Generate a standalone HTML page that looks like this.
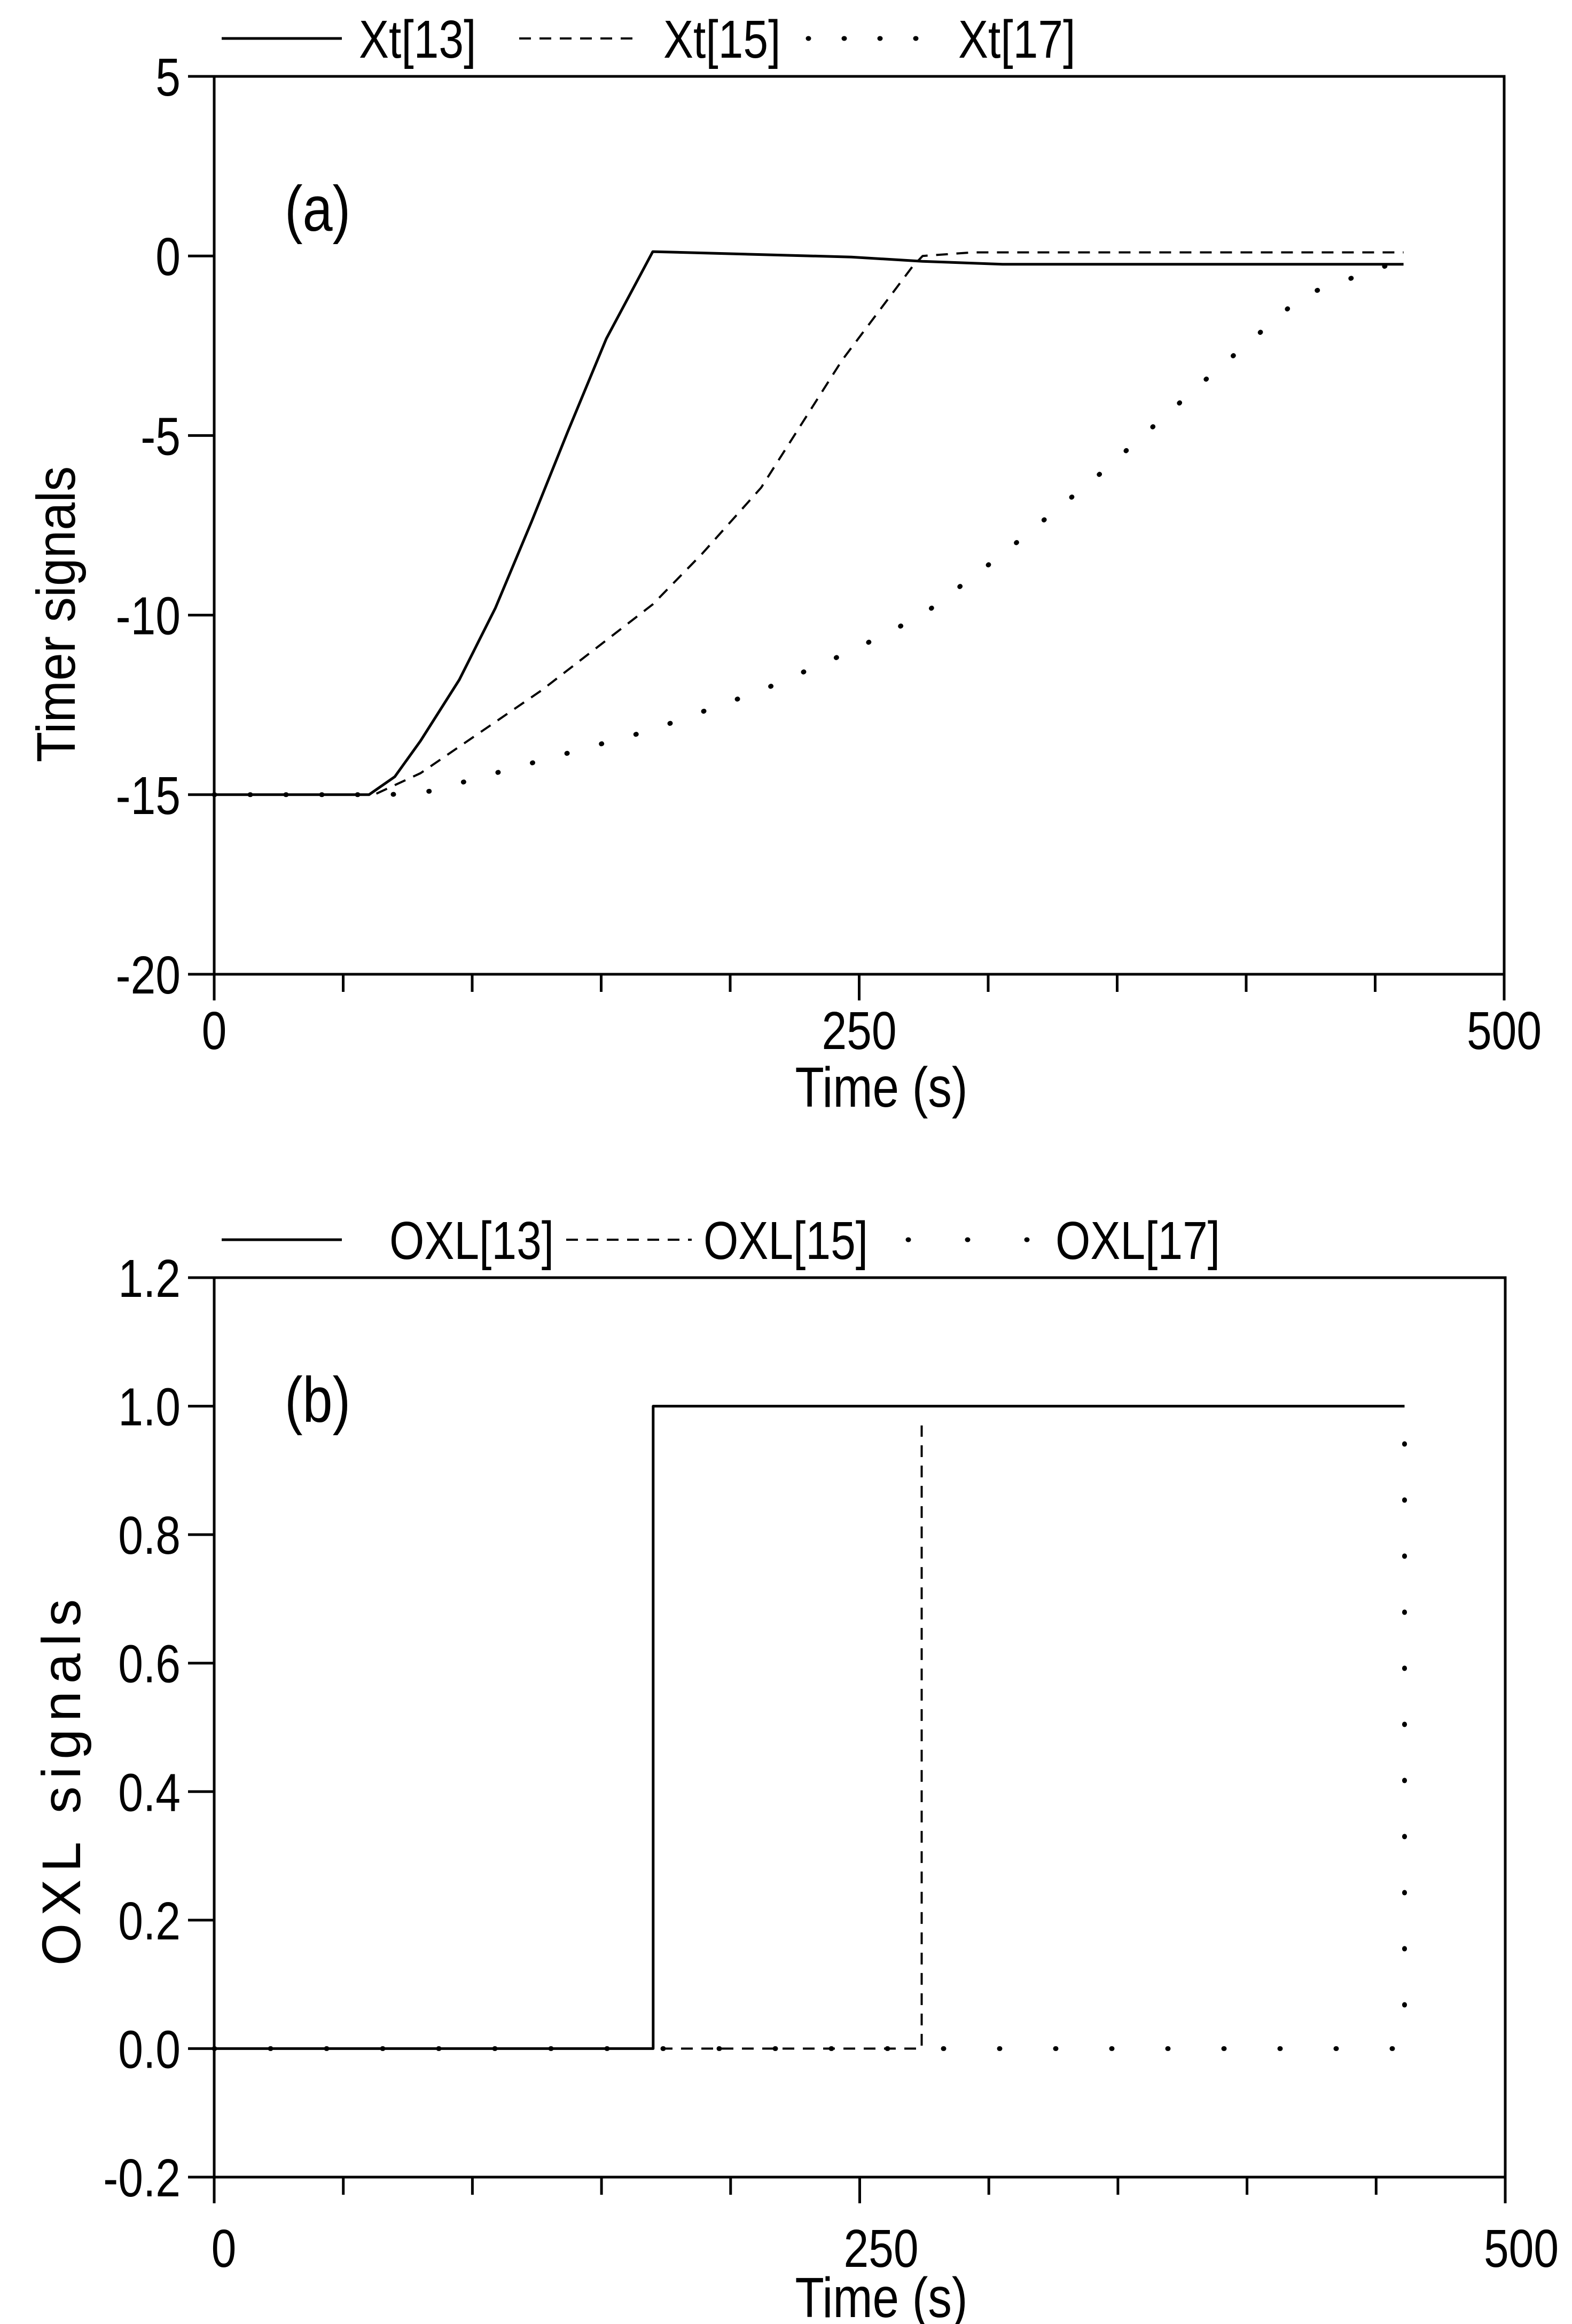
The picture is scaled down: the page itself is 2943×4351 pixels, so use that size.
<!DOCTYPE html>
<html><head><meta charset="utf-8">
<style>
html,body{margin:0;padding:0;background:#fff;}
svg{display:block;}
text{font-family:"Liberation Sans",sans-serif;fill:#000;}
</style></head>
<body>
<svg id="chart" width="2943" height="4351" viewBox="0 0 2943 4351" xmlns="http://www.w3.org/2000/svg">
<rect width="2943" height="4351" fill="#fff"/>
</svg>
<script>
// ---- Panel (a) data ----
const xt13T = [0, 60, 70, 80, 95, 109, 123, 137, 152, 170, 247, 274.5, 305.6, 461];
const xt13V = [-15, -15, -14.5, -13.5, -11.8, -9.8, -7.4, -4.9, -2.3, 0.12, -0.03, -0.15, -0.23, -0.23];
const xt15T = [0, 62, 80, 126.8, 170, 189, 212, 243.4, 270.6, 274.6, 294, 461];
const xt15V = [-15, -15, -14.4, -12.1, -9.7, -8.3, -6.45, -2.9, -0.3, 0, 0.1, 0.1];
const xt17T = [0, 68, 84, 119, 169.5, 212, 247, 274.5, 305.6, 344.5, 383.4, 422, 461];
const xt17V = [-15, -15, -14.9, -14.2, -13.2, -12.1, -11, -10, -8.3, -6, -3.5, -1.1, -0.1];
const aYTicks = [5, 0, -5, -10, -15, -20];
const aYLabels = ["5", "0", "-5", "-10", "-15", "-20"];
// ---- Panel (b) data ----
const oxl13T = [0, 170, 170, 461];
const oxl13V = [0, 0, 1, 1];
const oxl15T = [0, 274, 274];
const oxl15V = [0, 0, 0.97];
const oxl17T = [0, 461, 461];
const oxl17V = [0, 0, 0.96];
const bYTicks = [1.2, 1.0, 0.8, 0.6, 0.4, 0.2, 0.0, -0.2];
const bYLabels = ["1.2", "1.0", "0.8", "0.6", "0.4", "0.2", "0.0", "-0.2"];
const xMajor = [0, 250, 500];
const xMajorLabels = ["0", "250", "500"];
const xMinor = [50, 100, 150, 200, 300, 350, 400, 450];

const NS = "http://www.w3.org/2000/svg";
const svg = document.getElementById("chart");
const SX = 0.84;
function mk(tag, attrs, parent) {
  const e = document.createElementNS(NS, tag);
  for (const k in attrs) e.setAttribute(k, attrs[k]);
  (parent || svg).appendChild(e);
  return e;
}
function txt(parent, x, y, str, size, anchor, extra) {
  const a = {x: 0, y: 0, "font-size": size, transform: "translate(" + x + "," + y + ") " + (extra || "") + " scale(" + SX + ",1)"};
  if (anchor) a["text-anchor"] = anchor;
  const t = mk("text", a, parent);
  t.textContent = str;
  return t;
}
function panel(cfg) {
  const g = mk("g", {});
  
  
  const X = t => cfg.x0 + t / 500 * (cfg.x1 - cfg.x0);
  const Y = v => cfg.y0 + (cfg.ymax - v) / (cfg.ymax - cfg.ymin) * (cfg.y1 - cfg.y0);
  const frame = mk("rect", {x: cfg.x0, y: cfg.y0, width: cfg.x1 - cfg.x0, height: cfg.y1 - cfg.y0, fill: "none", stroke: "#000", "stroke-width": 5}, g);
  
  
  cfg.yTicks.forEach((v, i) => {
    const y = Y(v);
    const tk = mk("line", {x1: cfg.x0 - 49, x2: cfg.x0, y1: y, y2: y, stroke: "#000", "stroke-width": 5}, g);
    
    
    const tx = txt(g, 338, y + 36, cfg.yLabels[i], 100, "end");
    
    
  });
  xMajor.forEach((t, i) => {
    const x = X(t);
    const tk = mk("line", {x1: x, x2: x, y1: cfg.y1, y2: cfg.y1 + 49, stroke: "#000", "stroke-width": 5}, g);
    
    
    const tx = txt(g, x + cfg.xlabDx[i], cfg.y1 + cfg.xlabDy, xMajorLabels[i], 100, "middle");
    
    
  });
  xMinor.forEach(t => {
    const x = X(t);
    const tk = mk("line", {x1: x, x2: x, y1: cfg.y1, y2: cfg.y1 + 33, stroke: "#000", "stroke-width": 5}, g);
    
    
  });
  cfg.series.forEach(s => {
    const pts = s.t.map((t, i) => X(t).toFixed(1) + "," + Y(s.v[i]).toFixed(1)).join(" ");
    const attrs = {points: pts, fill: "none", stroke: "#000", "stroke-width": s.w, "stroke-linejoin": "round"};
    if (s.dash) attrs["stroke-dasharray"] = s.dash;
    if (s.cap) attrs["stroke-linecap"] = s.cap;
    const pl = mk("polyline", attrs, g);
    
    
  });
  cfg.legend.forEach(l => {
    const a = {x1: l.x1, x2: l.x2, y1: cfg.legY, y2: cfg.legY, stroke: "#000", "stroke-width": l.w};
    if (l.dash) a["stroke-dasharray"] = l.dash;
    if (l.cap) a["stroke-linecap"] = l.cap;
    const ln = mk("line", a, g);
    
    
    const tx = txt(g, l.tx, cfg.legY + 36, l.label, 100);
    
    
  });
  const pl = txt(g, 533, cfg.panelY, cfg.panelLabel, 120);
  
  
  const xt = txt(g, 1650, cfg.xTitleY, "Time (s)", 106, "middle");
  
  
  const yt = mk("text", {x: 0, y: 0, "text-anchor": "middle", "font-size": 102, "letter-spacing": cfg.yTitleLs, transform: "translate(" + cfg.yTitleX + "," + cfg.yTitleY + ") rotate(-90) scale(" + cfg.yTitleSX + ",1)"}, g);
  yt.textContent = cfg.yTitle;
  
  
}

panel({
  name: "panel-a", x0: 401, x1: 2816, y0: 143, y1: 1824, ymax: 5, ymin: -20,
  yTicks: aYTicks, yLabels: aYLabels, xlabDx: [0, 0, 0], xlabDy: 140,
  series: [
    {name: "series-xt13", t: xt13T, v: xt13V, w: 5},
    {name: "series-xt15", t: xt15T, v: xt15V, w: 4, dash: "22 16"},
    {name: "series-xt17", t: xt17T, v: xt17V, w: 9, dash: "1 66", cap: "round"}
  ],
  legY: 72,
  legend: [
    {x1: 415, x2: 640, w: 5, tx: 672, label: "Xt[13]"},
    {x1: 972, x2: 1197, w: 4, dash: "22 16", tx: 1242, label: "Xt[15]"},
    {x1: 1513, x2: 1724, w: 9, dash: "1 66", cap: "round", tx: 1794, label: "Xt[17]"}
  ],
  panelLabel: "(a)", panelY: 432, xTitleY: 2072,
  yTitle: "Timer signals", yTitleX: 140, yTitleY: 1150, yTitleLs: 0, yTitleSX: 0.92
});

panel({
  name: "panel-b", x0: 401, x1: 2818, y0: 2392, y1: 4076, ymax: 1.2, ymin: -0.2,
  yTicks: bYTicks, yLabels: bYLabels, xlabDx: [18, 40, 30], xlabDy: 168,
  series: [
    {name: "series-oxl17", t: oxl17T, v: oxl17V, w: 9, dash: "1 104", cap: "round"},
    {name: "series-oxl15", t: oxl15T, v: oxl15V, w: 4, dash: "22 16"},
    {name: "series-oxl13", t: oxl13T, v: oxl13V, w: 5}
  ],
  legY: 2321,
  legend: [
    {x1: 415, x2: 640, w: 5, tx: 729, label: "OXL[13]"},
    {x1: 1060, x2: 1295, w: 4, dash: "22 16", tx: 1317, label: "OXL[15]"},
    {x1: 1700, x2: 1934, w: 9, dash: "1 110", cap: "round", tx: 1976, label: "OXL[17]"}
  ],
  panelLabel: "(b)", panelY: 2662, xTitleY: 4338,
  yTitle: "OXL signals", yTitleX: 150, yTitleY: 3330, yTitleLs: 14, yTitleSX: 1
});
</script>
</body></html>
